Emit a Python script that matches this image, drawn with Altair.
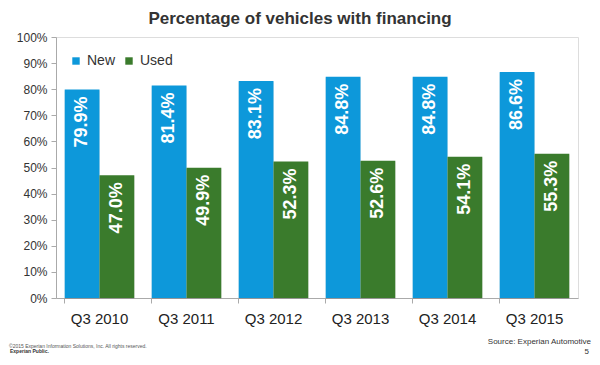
import altair as alt
import pandas as pd

quarters = ["Q3 2010", "Q3 2011", "Q3 2012", "Q3 2013", "Q3 2014", "Q3 2015"]
new_vals = [79.9, 81.4, 83.1, 84.8, 84.8, 86.6]
used_vals = [47.0, 49.9, 52.3, 52.6, 54.1, 55.3]
series = ["New", "Used"]
colors = ["#0d98da", "#3a7b2c"]
y_ticks = [0, 10, 20, 30, 40, 50, 60, 70, 80, 90, 100]

rows = []
for q, n, u in zip(quarters, new_vals, used_vals):
    rows.append({"quarter": q, "series": "New", "value": n})
    rows.append({"quarter": q, "series": "Used", "value": u})
df = pd.DataFrame(rows)

W, H = 522, 261

x = alt.X("quarter:N", sort=quarters, title=None,
          scale=alt.Scale(paddingInner=0.2, paddingOuter=0.1),
          axis=alt.Axis(labelAngle=0, labelFontSize=15, labelColor="#222",
                        labelFont="Liberation Sans", labelPadding=8,
                        bandPosition=0, tickSize=5, tickColor="#aaa",
                        domainColor="#aaa", grid=False))
y = alt.Y("value:Q", title=None,
          scale=alt.Scale(domain=[0, 100], nice=False),
          axis=alt.Axis(values=y_ticks, labelExpr="datum.value + '%'",
                        labelFontSize=12, labelColor="#333",
                        labelFont="Liberation Sans", tickSize=5,
                        tickColor="#aaa", domainColor="#aaa", grid=False,
                        labelPadding=4))
xo = alt.XOffset("series:N", sort=series,
                 scale=alt.Scale(paddingInner=0, paddingOuter=0))
color = alt.Color("series:N", sort=series,
                  scale=alt.Scale(domain=series, range=colors),
                  legend=alt.Legend(title=None, orient="none", direction="horizontal",
                                    legendX=13, legendY=17, symbolType="square",
                                    symbolSize=55, symbolStrokeWidth=0,
                                    labelFontSize=14, labelColor="#333",
                                    labelFont="Liberation Sans",
                                    columnPadding=6, symbolOffset=0))

base = alt.Chart(df)
shadow = base.mark_bar(color="#000000", opacity=0.12, xOffset=2, yOffset=1).encode(
    x=x, y=y, xOffset=xo)
bars = base.mark_bar(opacity=1).encode(x=x, y=y, xOffset=xo, color=color)
labels = base.transform_calculate(
    label="format(datum.value, '.1f') + '%'"
).mark_text(angle=270, align="right", baseline="middle", dx=-7,
            color="white", fontSize=18, fontWeight="bold",
            font="Liberation Sans").encode(x=x, y=y, xOffset=xo, text="label:N")

one = alt.Data(values=[{}])
source = alt.Chart(one).mark_text(text="Source: Experian Automotive", align="right",
                                  baseline="middle", fontSize=8, color="#333",
                                  font="Liberation Sans").encode(
    x=alt.value(535), y=alt.value(305))
page = alt.Chart(one).mark_text(text="5", align="right", baseline="middle",
                                fontSize=8, color="#333",
                                font="Liberation Sans").encode(
    x=alt.value(533), y=alt.value(315))
copy = alt.Chart(one).mark_text(text="\u00a92015 Experian Information Solutions, Inc. All rights reserved.",
                                align="left", baseline="middle", fontSize=5,
                                color="#555", font="Liberation Sans").encode(
    x=alt.value(-47), y=alt.value(309))
public = alt.Chart(one).mark_text(text="Experian Public.", align="left",
                                  baseline="middle", fontSize=5, fontWeight="bold",
                                  color="#333", font="Liberation Sans").encode(
    x=alt.value(-46), y=alt.value(314))

chart = alt.layer(shadow, bars, labels, source, page, copy, public).properties(
    width=W, height=H,
    title=alt.TitleParams("Percentage of vehicles with financing", fontSize=17,
                          fontWeight="bold", color="#333", font="Liberation Sans",
                          anchor="middle", dx=-17, offset=3),
    autosize=alt.AutoSizeParams(type="none"),
    padding={"left": 48, "top": 29, "right": 14, "bottom": 59},
).configure_view(stroke=None).configure(background="white")

chart.save("out.html", embed_options={"renderer": "svg", "actions": False})
